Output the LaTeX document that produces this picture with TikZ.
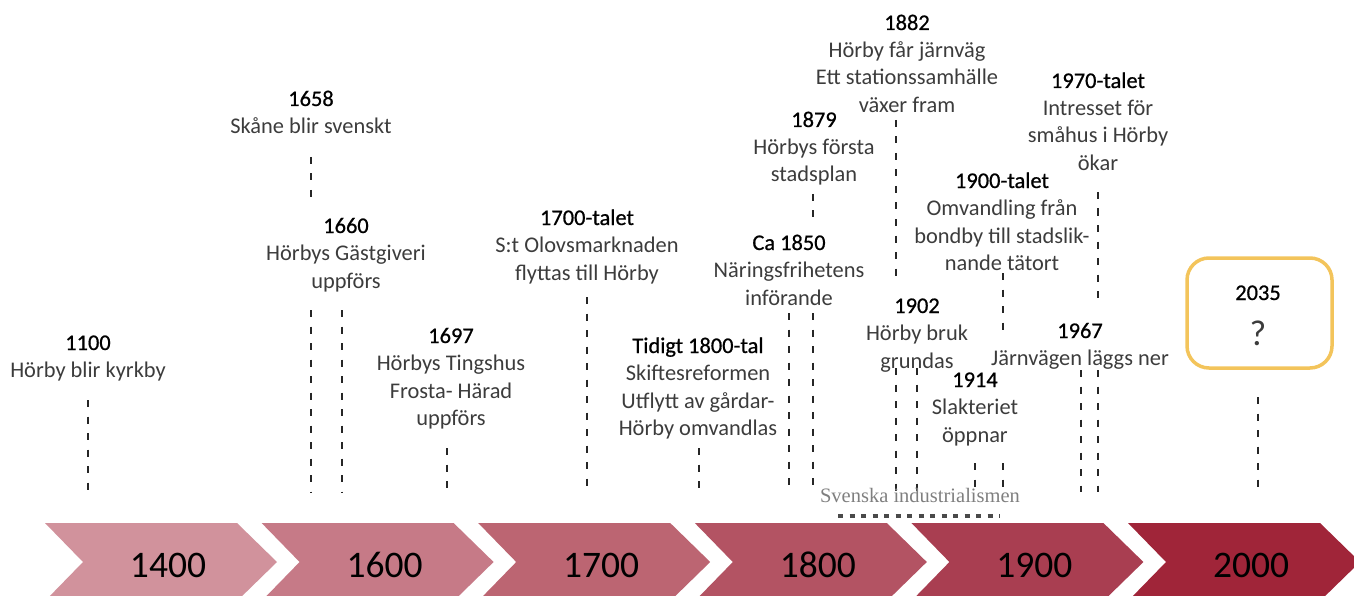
\documentclass[tikz,border=0pt]{standalone}
\usepackage{fontspec}
\setmainfont{Carlito}
\newfontfamily\garfont{Liberation Serif}
\newfontface\yearface{Carlito}[FakeBold=0.7]
\definecolor{bodygray}{HTML}{3C3C3C}
\definecolor{yearblack}{HTML}{000000}
\definecolor{tickgray}{HTML}{262626}
\definecolor{noteGray}{HTML}{7F7F7F}
\definecolor{dotgray}{HTML}{4A4A4A}
\definecolor{gold}{HTML}{F3C45B}
\definecolor{eraA}{HTML}{D1929C}
\definecolor{eraB}{HTML}{C67A87}
\definecolor{eraC}{HTML}{BC6572}
\definecolor{eraD}{HTML}{B35363}
\definecolor{eraE}{HTML}{A93E51}
\definecolor{eraF}{HTML}{A02539}
\newcommand{\evyear}[1]{{\yearface\textcolor{yearblack}{#1}}}
\begin{document}
\begin{tikzpicture}[x=1pt,y=-1pt,
  % multi-line labels are placed by the baseline of their last line
  ev/.style={align=center, inner sep=0pt, anchor=base, text=bodygray,
    font=\fontsize{22.4}{27.5}\selectfont},
  tick/.style={draw=tickgray, line width=1.3pt, dash pattern=on 7pt off 9.5pt},
  eralabel/.style={anchor=base, inner sep=0pt, text=black,
    font=\fontsize{37.5}{40}\selectfont},
  futurebox/.style={draw=gold, line width=3.5pt, rounded corners=22pt,
    minimum width=145pt, minimum height=110pt, inner sep=0pt}]
\useasboundingbox (0,0) rectangle (1354,596);
\clip (0,0) rectangle (1354,596);

% era chevrons along the bottom
\foreach \i/\c/\lab in {0/eraA/1400,1/eraB/1600,2/eraC/1700,3/eraD/1800,4/eraE/1900,5/eraF/2000}{
  \pgfmathsetmacro\L{45+216.6*\i}
  \fill[\c] (\L,523) -- (\L+192,523) -- (\L+232,562) -- (\L+192,601)
            -- (\L,601) -- (\L+38,562) -- cycle;
  \node[eralabel] (era\lab) at (\L+123,577) {\lab};
}

% bottom end of every tick line
\coordinate (base) at (0,492);

% events
\node[ev] (e1100) at (88,377.5) {\evyear{1100}\\Hörby blir kyrkby};
\node[ev] (e1658) at (311,133.5) {\evyear{1658}\\Skåne blir svenskt};
\node[ev] (e1660) at (346,288) {\evyear{1660}\\Hörbys Gästgiveri\\uppförs};
\node[ev] (e1697) at (451,425.5) {\evyear{1697}\\Hörbys Tingshus\\Frosta- Härad\\uppförs};
\node[ev] (e1700) at (587,280) {\evyear{1700-talet}\\S:t Olovsmarknaden\\flyttas till Hörby};
\node[ev] (e1800) at (698,435.5) {\evyear{Tidigt 1800-tal}\\Skiftesreformen\\Utflytt av gårdar-\\Hörby omvandlas};
\node[ev] (e1850) at (789,305) {\evyear{Ca 1850}\\Näringsfrihetens\\införande};
\node[ev] (e1879) at (814,182) {\evyear{1879}\\Hörbys första\\stadsplan};
\node[ev] (e1882) at (907,112.5) {\evyear{1882}\\Hörby får järnväg\\Ett stationssamhälle\\växer fram};
\node[ev] (e1900) at (1002,270.5) {\evyear{1900-talet}\\Omvandling från\\bondby till stadslik-\\nande tätort};
\node[ev] (e1970) at (1098,170.5) {\evyear{1970-talet}\\Intresset för\\småhus i Hörby\\ökar};
\node[ev] (e1902) at (917,368) {\evyear{1902}\\Hörby bruk\\grundas};
\node[ev] (e1914) at (975,442) {\evyear{1914}\\Slakteriet\\öppnar};
\node[ev] (e1967) at (1080,365.5) {\evyear{1967}\\Järnvägen läggs ner};

% the open future
\node[futurebox] (e2035) at (1259.5,313) {};
\node[ev] (y2035) at (1258,300) {\evyear{2035}};
\node[anchor=base, inner sep=0pt, text=bodygray, font=\fontsize{36}{40}\selectfont] (q2035) at (1258,345) {?};

% tick line end points
\coordinate (t1100) at (88,400);
\coordinate (t1658a) at (311,157);  \coordinate (t1658b) at (311,198);  \coordinate (t1658c) at (311,310);
\coordinate (t1660) at (342,310);
\coordinate (t1697) at (447,448);
\coordinate (t1700) at (587,297);
\coordinate (t1800) at (699,448);
\coordinate (t1850) at (789,313);
\coordinate (t1879a) at (813,194);  \coordinate (t1879b) at (813,217);  \coordinate (t1879c) at (813,313);
\coordinate (t1882a) at (896,120);  \coordinate (t1882b) at (896,285);  \coordinate (t1882c) at (896,368);
\coordinate (t1902) at (917,368);
\coordinate (t1900a) at (1003,273); \coordinate (t1900b) at (1003,332); \coordinate (t1900c) at (1003,463);
\coordinate (t1914) at (975,463);
\coordinate (t1970a) at (1098,192); \coordinate (t1970b) at (1098,302); \coordinate (t1970c) at (1098,370);
\coordinate (t1967) at (1081,370);
\coordinate (t2035) at (1258,397);

% tick lines down to the timeline
\draw[tick] (t1100) -- (t1100 |- base);
\draw[tick] (t1658a) -- (t1658b);
\draw[tick] (t1658c) -- (t1658c |- base);
\draw[tick] (t1660) -- (t1660 |- base);
\draw[tick] (t1697) -- (t1697 |- base);
\draw[tick] (t1700) -- (t1700 |- base);
\draw[tick] (t1800) -- (t1800 |- base);
\draw[tick] (t1850) -- (t1850 |- base);
\draw[tick] (t1879a) -- (t1879b);
\draw[tick] (t1879c) -- (t1879c |- base);
\draw[tick] (t1882a) -- (t1882b);
\draw[tick] (t1882c) -- (t1882c |- base);
\draw[tick] (t1902) -- (t1902 |- base);
\draw[tick] (t1900a) -- (t1900b);
\draw[tick] (t1900c) -- (t1900c |- base);
\draw[tick] (t1914) -- (t1914 |- base);
\draw[tick] (t1970a) -- (t1970b);
\draw[tick] (t1970c) -- (t1970c |- base);
\draw[tick] (t1967) -- (t1967 |- base);
\draw[tick] (t2035) -- (t2035 |- base);

% industrialisation period
\node[anchor=base, inner sep=0pt, text=noteGray, font=\garfont\fontsize{20.5}{24}\selectfont] (ind) at (920,502) {Svenska industrialismen};
\coordinate (indL) at (838,516);
\coordinate (indR) at (1000,516);
\draw[dotgray, line width=3.5pt, dash pattern=on 5pt off 6.5pt] (indL) -- (indR);
\end{tikzpicture}
\end{document}
